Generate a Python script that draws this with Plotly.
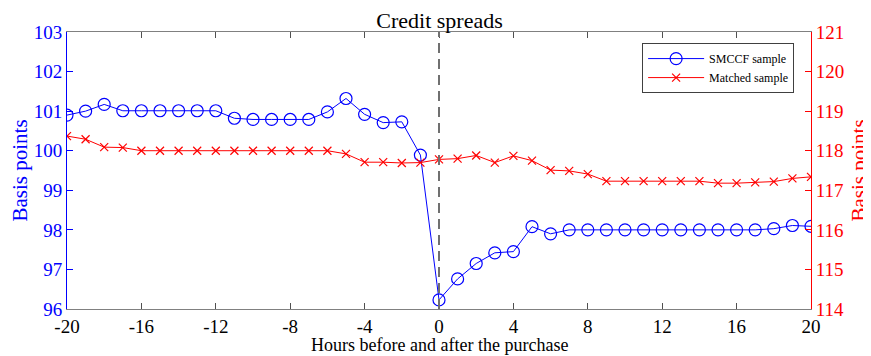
import plotly.graph_objects as go

hours = list(range(-20, 21))
smccf = [100.90, 101.00, 101.17, 101.01, 101.01, 101.01, 101.01, 101.01, 101.01,
         100.82, 100.79, 100.79, 100.79, 100.79, 100.98, 101.32, 100.92, 100.71,
         100.73, 99.89, 96.23, 96.76, 97.15, 97.42, 97.45, 98.08, 97.90, 98.00,
         98.00, 98.00, 98.00, 98.00, 98.00, 98.00, 98.00, 98.00, 98.00, 98.00,
         98.03, 98.11, 98.09]
matched = [118.37, 118.29, 118.09, 118.08, 118.00, 118.00, 118.00, 118.00, 118.00,
           118.00, 118.00, 118.00, 118.00, 118.00, 118.00, 117.92, 117.71, 117.71,
           117.69, 117.70, 117.78, 117.80, 117.88, 117.70, 117.87, 117.75, 117.51,
           117.49, 117.41, 117.23, 117.23, 117.23, 117.23, 117.23, 117.23, 117.18,
           117.18, 117.20, 117.22, 117.30, 117.34]
x_ticks = list(range(-20, 21, 4))
left_ticks = list(range(96, 104))
right_ticks = list(range(114, 122))

FONT = "Times New Roman, Liberation Serif, serif"
BLUE = "#0000ff"
RED = "#ff0000"

fig = go.Figure()
fig.add_trace(go.Scatter(x=hours, y=smccf, name="SMCCF sample", mode="lines+markers",
                         line=dict(color=BLUE, width=1),
                         marker=dict(symbol="circle-open", size=12, color=BLUE, line=dict(width=1.2)),
                         yaxis="y"))
fig.add_trace(go.Scatter(x=hours, y=matched, name="Matched sample", mode="lines+markers",
                         line=dict(color=RED, width=1),
                         marker=dict(symbol="x-thin-open", size=8, color=RED, line=dict(width=1.2, color=RED)),
                         yaxis="y2"))

fig.add_shape(type="line", x0=0, x1=0, xref="x", y0=0, y1=1, yref="paper",
              line=dict(color="#707070", width=2, dash="10px,6px"))

# Axis titles as annotations for precise placement
fig.add_annotation(text="Basis points", xref="paper", yref="paper", x=0, y=0.5,
                   xanchor="center", yanchor="middle", xshift=-48, textangle=-90,
                   borderpad=0, showarrow=False, font=dict(family=FONT, size=21, color=BLUE))
fig.add_annotation(text="Basis points", xref="paper", yref="paper", x=1, y=0.5,
                   xanchor="center", yanchor="middle", xshift=47, textangle=-90,
                   borderpad=0, showarrow=False, font=dict(family=FONT, size=21, color=RED))
fig.add_annotation(text="Hours before and after the purchase", xref="paper", yref="paper",
                   x=0.5, y=0, xanchor="center", yanchor="top", yshift=-25,
                   borderpad=0, showarrow=False, font=dict(family=FONT, size=18, color="black"))

# The page body adds an 8px margin; the figure is sized and padded to compensate.
fig.update_layout(
    width=863, height=348,
    margin=dict(l=59, r=60, t=24, b=47, autoexpand=False),
    paper_bgcolor="white", plot_bgcolor="white",
    font=dict(family=FONT, size=19, color="black"),
    title=dict(text="Credit spreads", x=0.5, xanchor="center", y=0.988, yanchor="top",
               pad=dict(t=0), font=dict(family=FONT, size=22, color="black")),
    showlegend=True,
    legend=dict(x=0.773, y=0.96, xanchor="left", yanchor="top",
                bgcolor="white", bordercolor="#404040", borderwidth=1,
                font=dict(family=FONT, size=12, color="black"),
                tracegroupgap=0, itemwidth=56),
    xaxis=dict(range=[-20, 20], tickvals=x_ticks, ticktext=[str(v) for v in x_ticks],
               automargin=False,
               showgrid=False, zeroline=False, showline=True, linecolor="#808080", linewidth=1,
               mirror="ticks", ticks="inside", ticklen=6, tickcolor="#505050",
               tickfont=dict(family=FONT, size=19, color="black")),
    yaxis=dict(range=[96, 103], tickvals=left_ticks, showgrid=False, zeroline=False,
               automargin=False,
               showline=True, linecolor=BLUE, linewidth=1, ticks="inside", ticklen=6,
               tickcolor=BLUE, tickfont=dict(family=FONT, size=19, color=BLUE)),
    yaxis2=dict(range=[114, 121], tickvals=right_ticks, overlaying="y", side="right",
                automargin=False,
                showgrid=False, zeroline=False, showline=True, linecolor=RED, linewidth=1,
                ticks="inside", ticklen=6, tickcolor=RED,
                tickfont=dict(family=FONT, size=19, color=RED)),
)

fig.write_html("out.html")
